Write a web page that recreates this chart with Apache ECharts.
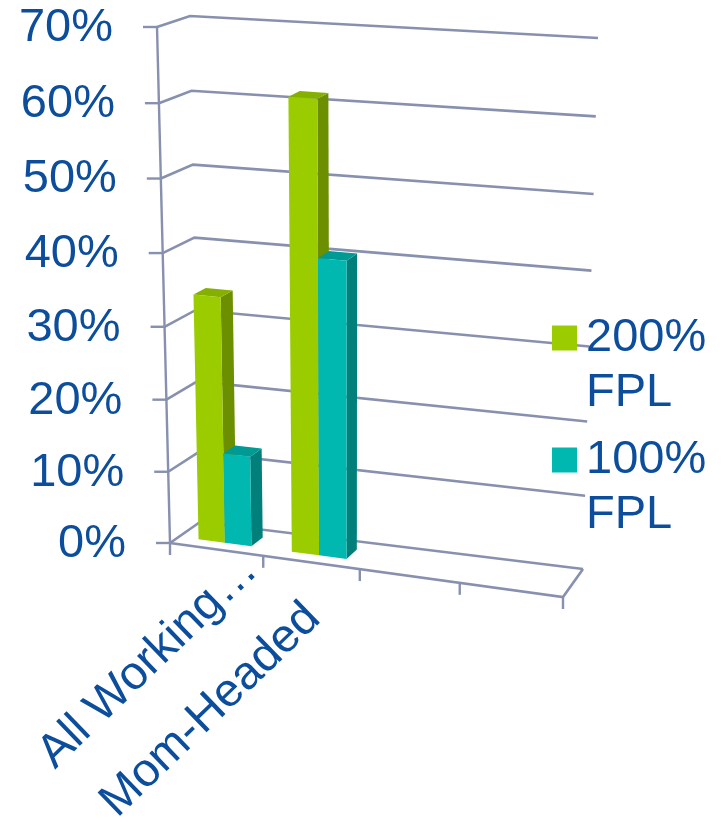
<!DOCTYPE html>
<html><head><meta charset="utf-8">
<script src="https://cdn.jsdelivr.net/npm/echarts@6/dist/echarts.min.js"></script>
<style>html,body{margin:0;padding:0;background:#fff}#chart{width:726px;height:823px}</style>
</head><body><div id="chart"></div>
<script>
// ---- data ----
const categories = ['All Working\u2026', 'Mom-Headed', '', ''];
const seriesNames = ['200% FPL', '100% FPL'];
const fpl200 = [34, 61.5];
const fpl100 = [12.5, 40.5];
const yTicks = [0, 10, 20, 30, 40, 50, 60, 70];
const yTickLabels = ['0%', '10%', '20%', '30%', '40%', '50%', '60%', '70%'];

// ---- layout / style ----
const FONT = '"Liberation Sans", Arial, sans-serif';
const FS = 47;
const CAT_FS = 47;
const TEXT = '#0C4E9C';
const GRIDC = '#8790AE';
const FRONT = {bl: [170, 543], br: [563, 597], tl: [157, 27], tr: [580, 55]};
const BACK  = {bl: [200, 522], br: [583, 569], tl: [190, 16], tr: [598, 38]};
const DEPTH0 = 0.3, DEPTH1 = 0.7, GAP = 1.5;
const labelNudge = [[34, 14], [2, 49], [0, 0], [0, 0]];
const colors = [
  {front: '#9BCC00', side: '#6C8F00', top: '#86B000'},
  {front: '#00B8B0', side: '#007F7B', top: '#009A95'}
];

function lerp(a, b, t) { return [a[0] + (b[0] - a[0]) * t, a[1] + (b[1] - a[1]) * t]; }
function plane(q, u, w) { return lerp(lerp(q.bl, q.br, u), lerp(q.tl, q.tr, u), w); }
function P(u, w, z) {
  const uu = 0.932 * u + 0.068 * u * u;
  const ww = 0.961 * w + 0.039 * w * w;
  return lerp(plane(FRONT, uu, ww), plane(BACK, uu, ww), z);
}
function norm(cs, pt) { return [(pt[0] - cs.x) / cs.width, (cs.y + cs.height - pt[1]) / cs.height]; }

function gridRender(params, api) {
  const cs = params.coordSys;
  const v = api.value(1);
  const w = norm(cs, api.coord([0, v]))[1];
  const a = P(0, w, 0), b = P(0, w, 1), c = P(1, w, 1);
  return {type: 'group', children: [
    {type: 'polyline', shape: {points: [a, b, c]}, style: {stroke: GRIDC, lineWidth: 2.6, fill: null}},
    {type: 'line', shape: {x1: a[0] - 14, y1: a[1], x2: a[0], y2: a[1]}, style: {stroke: GRIDC, lineWidth: 2.4}},
    {type: 'text', x: a[0] - 44, y: a[1] + 1, style: {
      text: yTickLabels[params.dataIndex], fill: TEXT, font: FS + 'px ' + FONT,
      align: 'right', verticalAlign: 'middle'}}
  ]};
}

function floorRender(params, api) {
  const cs = params.coordSys;
  const n = categories.length;
  const p00 = P(0, 0, 0), p10 = P(1, 0, 0), p11 = P(1, 0, 1), top = P(0, 1, 0);
  const children = [
    {type: 'polyline', shape: {points: [p00, p10, p11]}, style: {stroke: GRIDC, lineWidth: 2.6, fill: null}},
    {type: 'line', shape: {x1: p00[0], y1: p00[1], x2: top[0], y2: top[1]}, style: {stroke: GRIDC, lineWidth: 2.4}}
  ];
  const slotW = api.size([1, 0])[0];
  for (let k = 0; k <= n; k++) {
    const c = api.coord([Math.min(k, n - 1), 0]);
    const x = k < n ? c[0] - slotW / 2 : c[0] + slotW / 2;
    const u = (x - cs.x) / cs.width;
    const p = P(u, 0, 0);
    children.push({type: 'line', shape: {x1: p[0], y1: p[1], x2: p[0], y2: p[1] + 12}, style: {stroke: GRIDC, lineWidth: 2.4}});
  }
  return {type: 'group', children};
}

function catLabelRender(params, api) {
  const cs = params.coordSys;
  const i = api.value(0);
  const u = norm(cs, api.coord([i, 0]))[0];
  const p = P(u, 0, 0);
  const nd = labelNudge[params.dataIndex];
  return {type: 'text', x: p[0] + nd[0], y: p[1] + nd[1], rotation: 44 * Math.PI / 180,
    style: {text: categories[params.dataIndex], fill: TEXT, font: CAT_FS + 'px ' + FONT, align: 'right', verticalAlign: 'middle'}};
}

function barRender(sIdx) {
  return function (params, api) {
    const cs = params.coordSys;
    const i = api.value(0), v = api.value(1);
    const c = api.coord([i, v]);
    const slotW = api.size([1, 0])[0];
    const n = seriesNames.length;
    const bw = slotW / (n + GAP);
    const x0 = c[0] - slotW / 2 + bw * GAP / 2 + sIdx * bw;
    const u0 = (x0 - cs.x) / cs.width, u1 = (x0 + bw - cs.x) / cs.width;
    const w = norm(cs, c)[1];
    const col = colors[sIdx];
    const front = [P(u0, 0, DEPTH0), P(u1, 0, DEPTH0), P(u1, w, DEPTH0), P(u0, w, DEPTH0)];
    const side = [P(u1, 0, DEPTH0), P(u1, 0, DEPTH1), P(u1, w, DEPTH1), P(u1, w, DEPTH0)];
    const topF = [P(u0, w, DEPTH0), P(u1, w, DEPTH0), P(u1, w, DEPTH1), P(u0, w, DEPTH1)];
    return {type: 'group', children: [
      {type: 'polygon', shape: {points: side}, style: {fill: col.side}},
      {type: 'polygon', shape: {points: topF}, style: {fill: col.top}},
      {type: 'polygon', shape: {points: front}, style: {fill: col.front}}
    ]};
  };
}

const chart = echarts.init(document.getElementById('chart'));
const LH = 55;
const legendBase = {
  orient: 'vertical', left: 552, padding: 0, itemWidth: 25, itemHeight: 25, icon: 'rect',
  selectedMode: false, formatter: n => ' \n' + n.replace(' ', '\n'),
  textStyle: {fontSize: FS, lineHeight: LH, color: TEXT, fontFamily: FONT, padding: [0, 0, 0, 4]}
};
chart.setOption({
  backgroundColor: '#fff',
  animation: false,
  grid: {left: 157, right: 128, top: 16, bottom: 226},
  xAxis: {type: 'category', data: categories, show: false},
  yAxis: {type: 'value', min: 0, max: 70, interval: 10, show: false},
  legend: [
    Object.assign({}, legendBase, {data: [seriesNames[0]], top: 338 - 1.5 * LH}),
    Object.assign({}, legendBase, {data: [seriesNames[1]], top: 460 - 1.5 * LH})
  ],
  series: [
    {type: 'custom', name: 'grid', silent: true, clip: false, renderItem: gridRender,
     data: yTicks.map(v => [0, v]), encode: {x: 0, y: 1}},
    {type: 'custom', name: 'floor', silent: true, clip: false, renderItem: floorRender,
     data: [[0, 0]], encode: {x: 0, y: 1}},
    {type: 'custom', name: seriesNames[0], silent: true, clip: false, renderItem: barRender(0),
     itemStyle: {color: colors[0].front}, data: fpl200.map((v, i) => [i, v]), encode: {x: 0, y: 1}},
    {type: 'custom', name: seriesNames[1], silent: true, clip: false, renderItem: barRender(1),
     itemStyle: {color: colors[1].front}, data: fpl100.map((v, i) => [i, v]), encode: {x: 0, y: 1}},
    {type: 'custom', name: 'labels', silent: true, clip: false, renderItem: catLabelRender,
     data: categories.map((c, i) => [i, 0]), encode: {x: 0, y: 1}}
  ]
});
</script></body></html>
